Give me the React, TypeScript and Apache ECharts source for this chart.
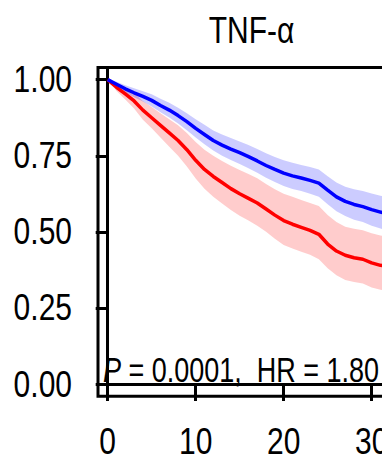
import React, { useEffect, useRef } from 'react';
import * as echarts from 'echarts';

const times = [0, 1, 2, 3, 4, 5, 6, 7, 8, 9, 10, 11, 12, 13, 14, 15, 16, 17, 18, 19, 20, 21, 22, 23, 24, 25, 26, 27, 28, 29, 30, 31, 32];

const blueSurv = [1.0, 0.985, 0.97, 0.957, 0.945, 0.932, 0.915, 0.9, 0.882, 0.862, 0.84, 0.82, 0.8, 0.785, 0.772, 0.76, 0.747, 0.733, 0.718, 0.705, 0.693, 0.684, 0.677, 0.669, 0.66, 0.637, 0.615, 0.6, 0.59, 0.583, 0.573, 0.565, 0.558];
const blueUpper = [1.0, 0.993, 0.982, 0.972, 0.962, 0.952, 0.937, 0.924, 0.908, 0.89, 0.87, 0.852, 0.833, 0.82, 0.808, 0.797, 0.785, 0.772, 0.758, 0.746, 0.735, 0.727, 0.72, 0.713, 0.705, 0.683, 0.662, 0.648, 0.64, 0.634, 0.626, 0.619, 0.613];
const blueLower = [1.0, 0.977, 0.958, 0.942, 0.928, 0.912, 0.893, 0.876, 0.856, 0.834, 0.81, 0.788, 0.767, 0.75, 0.736, 0.723, 0.709, 0.694, 0.678, 0.664, 0.651, 0.641, 0.634, 0.625, 0.615, 0.591, 0.568, 0.552, 0.54, 0.532, 0.52, 0.511, 0.503];

const redSurv = [1.0, 0.975, 0.953, 0.93, 0.9, 0.875, 0.85, 0.825, 0.8, 0.77, 0.735, 0.705, 0.682, 0.662, 0.642, 0.625, 0.61, 0.595, 0.575, 0.555, 0.537, 0.525, 0.515, 0.505, 0.492, 0.46, 0.437, 0.423, 0.415, 0.41, 0.398, 0.39, 0.385];
const redUpper = [1.0, 0.985, 0.97, 0.955, 0.93, 0.91, 0.89, 0.87, 0.85, 0.825, 0.795, 0.77, 0.75, 0.733, 0.717, 0.703, 0.69, 0.676, 0.657, 0.64, 0.625, 0.615, 0.605, 0.595, 0.585, 0.555, 0.532, 0.517, 0.51, 0.505, 0.495, 0.488, 0.483];
const redLower = [1.0, 0.963, 0.935, 0.905, 0.868, 0.84, 0.81, 0.78, 0.75, 0.715, 0.675, 0.642, 0.615, 0.593, 0.572, 0.553, 0.537, 0.52, 0.5, 0.477, 0.457, 0.445, 0.435, 0.425, 0.41, 0.38, 0.357, 0.342, 0.335, 0.33, 0.317, 0.31, 0.305];

const xTicks = [0, 10, 20, 30];
const xTickLabels = ['0', '10', '20', '30'];
const yTicks = [0, 0.25, 0.5, 0.75, 1.0];
const yTickLabels = ['0.00', '0.25', '0.50', '0.75', '1.00'];

const titleText = 'TNF-α';
const statText = '{i|P} = 0.0001,  HR = 1.80';

const FONT = '"Liberation Sans", Arial, Helvetica, sans-serif';
const X_MIN = -1.1;
const X_MAX = 33.45;
const Y_MIN = -0.04;
const Y_MAX = 1.04;

export default function App() {
  const ref = useRef<HTMLDivElement>(null);
  useEffect(() => {
    document.body.style.margin = '0';
    const chart = echarts.init(ref.current!, null, { renderer: 'svg' });
    const pair = (ys: number[]) => times.map((t, i) => [t, ys[i]]);
    const band = (upper: number[], lower: number[], color: string) => ({
      type: 'custom',
      data: [[times[0], upper[0]]],
      silent: true,
      clip: true,
      renderItem: (_params: any, api: any) => {
        const pts: number[][] = [];
        times.forEach((t, i) => pts.push(api.coord([t, upper[i]])));
        for (let i = times.length - 1; i >= 0; i--) pts.push(api.coord([times[i], lower[i]]));
        return { type: 'polygon', shape: { points: pts }, style: { fill: color } };
      },
    });
    chart.setOption({
      animation: false,
      grid: {
        left: 98, top: 67.5, right: 20, bottom: 61.8,
        show: true, borderColor: '#000', borderWidth: 3, backgroundColor: 'transparent',
      },
      xAxis: {
        type: 'value', min: X_MIN, max: X_MAX,
        splitLine: { show: false },
        axisLine: { show: true, lineStyle: { color: '#000', width: 3 } },
        axisTick: { show: true, length: 17, lineStyle: { color: '#000', width: 3 }, customValues: xTicks },
        axisLabel: { show: false },
      },
      yAxis: {
        type: 'value', min: Y_MIN, max: Y_MAX,
        splitLine: { show: false },
        axisLine: { show: true, lineStyle: { color: '#000', width: 3 } },
        axisTick: { show: true, length: 12, lineStyle: { color: '#000', width: 3 }, customValues: yTicks },
        axisLabel: { show: false },
      },
      series: [
        band(redUpper, redLower, 'rgba(255,0,0,0.2)'),
        band(blueUpper, blueLower, 'rgba(0,0,255,0.2)'),
        { type: 'line', data: pair(redSurv), symbol: 'none', lineStyle: { color: '#ff0000', width: 3.5 } },
        { type: 'line', data: pair(blueSurv), symbol: 'none', lineStyle: { color: '#0000ff', width: 3.5 } },
      ],
    });

    const toPx = (x: number, y: number) => chart.convertToPixel({ gridIndex: 0 }, [x, y]) as number[];
    const axisX = toPx(X_MIN, 0)[0];
    const axisY = toPx(0, Y_MIN)[1];
    const labelStyle = (text: string, align: string) => ({
      text, fontSize: 30, lineHeight: 24, fontFamily: FONT, fill: '#000',
      align, verticalAlign: 'middle', textAlign: align, textVerticalAlign: 'middle',
    });
    const graphics: any[] = [];
    yTicks.forEach((v, i) => {
      const p = toPx(X_MIN, v);
      graphics.push({ type: 'text', x: axisX - 26, y: p[1], scaleY: 1.2, style: labelStyle(yTickLabels[i], 'right') });
    });
    xTicks.forEach((v, i) => {
      const p = toPx(v, Y_MIN);
      graphics.push({ type: 'text', x: p[0], y: axisY + 45.5, scaleY: 1.2, style: labelStyle(xTickLabels[i], 'center') });
    });
    graphics.push({
      type: 'text', x: 251.5, y: 29.5, scaleY: 1.25,
      style: { text: titleText, fontSize: 30, fontFamily: FONT, fill: '#000', align: 'center', verticalAlign: 'middle', textAlign: 'center', textVerticalAlign: 'middle' },
    });
    graphics.push({
      type: 'text', x: 103, y: 370, scaleY: 1.3,
      style: {
        text: statText, fontSize: 27, fontFamily: FONT, fill: '#000',
        align: 'left', verticalAlign: 'middle', textAlign: 'left', textVerticalAlign: 'middle',
        rich: { i: { fontStyle: 'italic', fontSize: 27, fontFamily: FONT, fill: '#000' } },
      },
    });
    chart.setOption({ graphic: graphics });
    return () => chart.dispose();
  }, []);
  return (
    <div style={{ width: 382, height: 458, overflow: 'hidden', position: 'relative' }}>
      <div ref={ref} style={{ width: 422, height: 458 }} />
    </div>
  );
}
